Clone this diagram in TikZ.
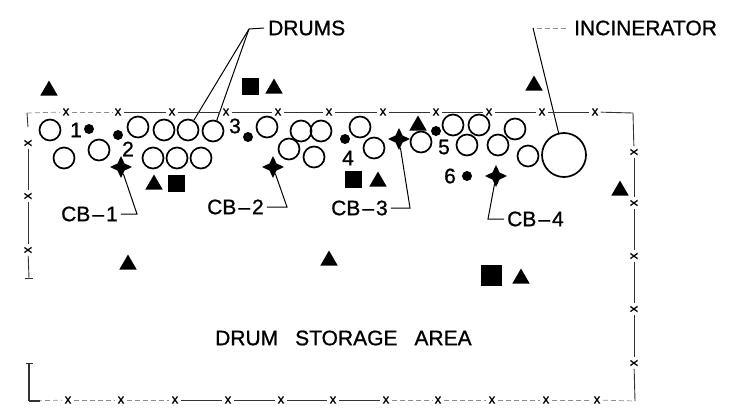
\documentclass[tikz,border=0pt]{standalone}
\usepackage{fontspec}
\setmainfont{Liberation Sans}
\newfontfamily\labfont{Liberation Sans}[FakeBold=0.9]
\newfontfamily\postfont{Liberation Sans}[FakeBold=1.2]
\usetikzlibrary{shapes.geometric}
\tikzset{
  drum/.style={circle,draw=black,line width=1.7pt,minimum size=21pt,inner sep=0pt},
  incin/.style={circle,draw=black,line width=1.7pt,minimum size=44pt,inner sep=0pt},
  dot/.style={circle,fill=black,minimum size=10pt,inner sep=0pt},
  tri/.style={regular polygon,regular polygon sides=3,fill=black,minimum size=20pt,inner sep=0pt},
  sq/.style={rectangle,fill=black,minimum size=17pt,inner sep=0pt},
  bigsq/.style={rectangle,fill=black,minimum size=21pt,inner sep=0pt},
  cb/.style={star,star points=4,star point ratio=2.2,fill=black,minimum size=22pt,inner sep=0pt},
  lab/.style={font=\labfont\fontsize{21}{21}\selectfont,inner sep=0pt,text=black},
  num/.style={font=\labfont\fontsize{21}{21}\selectfont,inner sep=0pt,text=black},
  fx/.style={font=\postfont\fontsize{13}{13}\selectfont,inner sep=2.5pt,text=black},
  fxs/.style={fx,rotate=90},
  fence/.style={line width=0.9pt,draw=black!80},
  faint/.style={line width=0.7pt,draw=black!45,dash pattern=on 5pt off 3pt},
  lead/.style={line width=1pt,draw=black}
}
\begin{document}
\begin{tikzpicture}[x=1pt,y=-1pt]
\useasboundingbox (0,0) rectangle (741,410);
% drums
\foreach \n/\x/\y in {1/50/130,2/64/158,3/99/150,4/138/127,5/164/130,6/188/130,7/213/131,8/153/158,9/177/158,10/201/158,11/267/127,12/301/131,13/321/131,14/289/149,15/314/157,16/360/127,17/374/148,18/421/142,19/453/125,20/479/125,21/467/145,22/498/145,23/515/129,24/528/156}
  \node[drum] (d\n) at (\x,\y) {};
\node[incin] (inc) at (564,155) {};
% sampling dots
\foreach \n/\x/\y in {1/89/129,2/118/135,3/248/137,4/345/139,5/436/131,6/467/176}
  \node[dot] (s\n) at (\x,\y) {};
% numbers
\foreach \n/\x/\y in {1/76/130,2/128/149,3/235/126,4/348/158,5/444/147,6/450/176}
  \node[num] (n\n) at (\x,\y) {\n};
% triangles
\foreach \n/\x/\y in {1/49/90.5,2/274/88.5,3/154/184.5,4/534/85.5,5/418/125.5,6/378/181.5,7/620/190.5,8/128/264.5,9/329/260.5,10/521/278.5}
  \node[tri] (t\n) at (\x,\y) {};
% squares
\foreach \n/\x/\y in {1/250/86,2/176/183,3/353/179}
  \node[sq] (q\n) at (\x,\y) {};
\node[bigsq] (q4) at (491,275) {};
% CB stars
\node[cb] (cb1) at (121,167) {};
\node[cb] (cb2) at (273,167) {};
\node[cb] (cb3) at (399,139) {};
\node[cb] (cb4) at (496,176) {};
% labels
\node[lab,anchor=west] (ldrums) at (268,28) {DRUMS};
\node[lab,anchor=west] (linc) at (574,28) {INCINERATOR};
\node[lab,anchor=west] (larea) at (215,338) {DRUM\hspace{17pt}STORAGE\hspace{17pt}AREA};
\node[lab,anchor=west] (l1) at (61,214) {CB\kern2pt–\kern2pt1};
\node[lab,anchor=west] (l2) at (207,207) {CB\kern2pt–\kern2pt2};
\node[lab,anchor=west] (l3) at (331,208) {CB\kern2pt–\kern2pt3};
\node[lab,anchor=west] (l4) at (507,219) {CB\kern2pt–\kern2pt4};
% leaders
\coordinate (jd) at (249,29);
\coordinate (ji) at (533,28);
\coordinate (j1) at (137,214);
\coordinate (j2) at (287,207);
\coordinate (j3) at (410,208);
\coordinate (j4) at (488,219);
\draw[lead] ([xshift=-4pt]ldrums.west) -- (jd) -- (d6);
\draw[lead] (jd) -- (d7);
\draw[faint] ([xshift=-8pt]linc.west) -- (ji);
\draw[lead] (ji) -- (inc);
\draw[lead] ([xshift=3pt]l1.east) -- (j1) -- (cb1);
\draw[lead] ([xshift=3pt]l2.east) -- (j2) -- (cb2);
\draw[lead] ([xshift=3pt]l3.east) -- (j3) -- (cb3);
\draw[lead] ([xshift=-3pt]l4.west) -- (j4) -- (cb4);
% fence posts
\foreach \n/\x in {0/66,1/118,2/172,3/226,4/278,5/329,6/383,7/436,8/489,9/542,10/595}
  \node[fx] (ft\n) at (\x,112) {x};
\foreach \n/\x in {0/68,1/121,2/175,3/228,4/281,5/333,6/386,7/438,8/492,9/546,10/597}
  \node[fx] (fb\n) at (\x,400) {x};
\foreach \n/\y in {0/143,1/196,2/250}
  \node[fxs] (fl\n) at (28,\y) {x};
\foreach \n/\y in {0/152,1/203,2/256,3/309,4/363}
  \node[fxs] (fr\n) at (634,\y) {x};
\coordinate (ctl) at (27,113);
\coordinate (ctr) at (633,113);
\coordinate (cbl) at (29,401);
\coordinate (cbr) at (635,401);
\coordinate (el) at (29,278);
\coordinate (el2) at (29,363);
% top
\draw[faint] (ctl) -- (ft0);
\draw[fence] (ctl) -- (28,127);
\draw[faint] (ft0) -- (ft1);
\foreach \a/\b in {1/2,2/3,3/4,4/5,5/6,6/7,7/8,8/9,9/10}
  \draw[fence] (ft\a) -- (ft\b);
\draw[fence] (ft10) -- (ctr);
% bottom
\draw[faint] (cbl) -- (fb0);
\draw[faint] (fb0) -- (fb1);
\draw[faint] (fb1) -- (fb2);
\foreach \a/\b in {2/3,3/4,4/5,5/6}
  \draw[fence] (fb\a) -- (fb\b);
\foreach \a/\b in {6/7,7/8,8/9,9/10}
  \draw[faint] (fb\a) -- (fb\b);
\draw[faint] (fb10) -- (cbr);
% left
\draw[fence] (fl0) -- (fl1);
\draw[fence] (fl1) -- (fl2);
\draw[fence] (fl2) -- (el);
\draw[fence] (25,278) -- (33,278);
\draw[fence,line width=1.2pt] (el2) -- (cbl);
\draw[fence] (26,363) -- (33,363);
\draw[fence,line width=1.2pt] (cbl) -- (40,401);
% right
\draw[fence] (ctr) -- (fr0);
\draw[fence] (fr0) -- (fr1);
\draw[fence] (fr1) -- (fr2);
\draw[fence] (fr2) -- (fr3);
\draw[fence] (fr3) -- (fr4);
\draw[fence] (fr4) -- (cbr);
\end{tikzpicture}
\end{document}
